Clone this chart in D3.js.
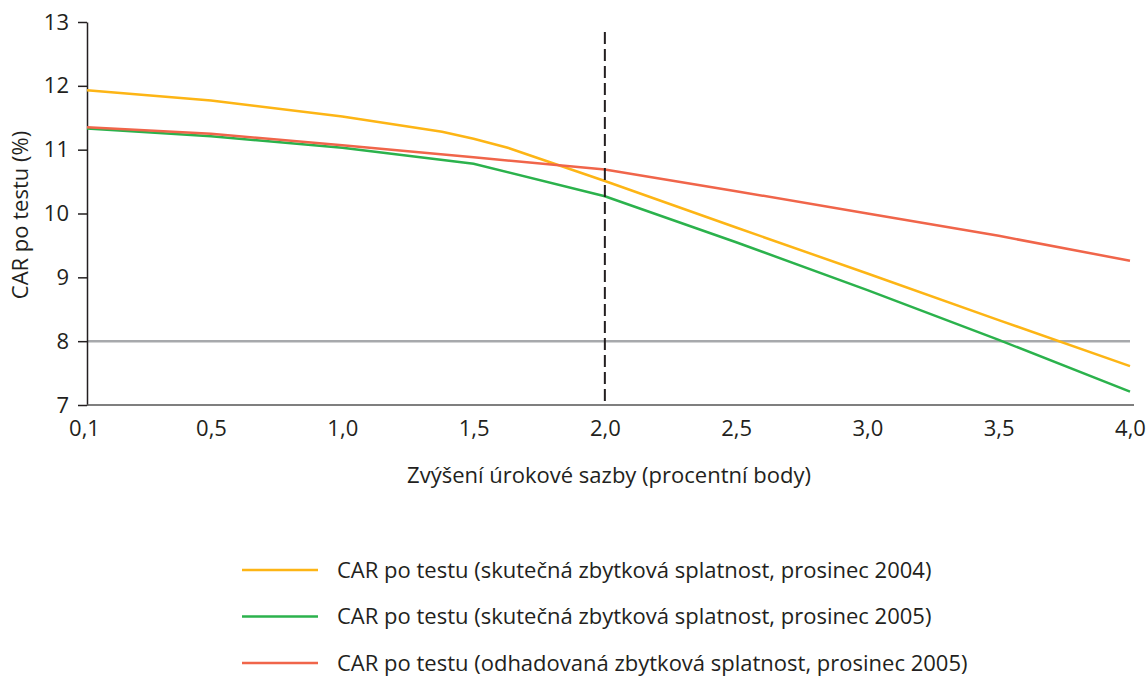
<html><head><meta charset="utf-8"><title>CAR po testu</title>
<style>
body { margin: 0; background: #fff; font-family: "Open Sans", "Noto Sans", sans-serif; }
text { fill: #231f20; }
</style>
<script src="https://d3js.org/d3.v7.min.js"></script>
</head>
<body>
<div id="chart"></div>
<script>
// data
const xTicks = [0.1, 0.5, 1.0, 1.5, 2.0, 2.5, 3.0, 3.5, 4.0];
const yTicks = [7, 8, 9, 10, 11, 12, 13];

const yellowX = [0.1, 0.5, 1.0, 1.38, 1.5, 1.63, 2.0, 2.5, 3.0, 3.5, 4.0];
const yellowY = [11.93, 11.77, 11.52, 11.28, 11.17, 11.03, 10.51, 9.78, 9.06, 8.33, 7.61];

const greenX = [0.1, 0.5, 1.0, 1.5, 2.0, 2.5, 3.0, 3.5, 4.0];
const greenY = [11.33, 11.21, 11.03, 10.78, 10.27, 9.55, 8.8, 8.02, 7.21];

const redX = [0.1, 0.5, 1.0, 1.5, 2.0, 2.5, 3.0, 3.5, 4.0];
const redY = [11.35, 11.25, 11.07, 10.88, 10.69, 10.35, 10.0, 9.65, 9.26];

const thresholdY = 8;
const markerX = 2.0;

const seriesNames = [
    "CAR po testu (skutečná zbytková splatnost, prosinec 2004)",
    "CAR po testu (skutečná zbytková splatnost, prosinec 2005)",
    "CAR po testu (odhadovaná zbytková splatnost, prosinec 2005)"
];
const seriesColors = ["#fdb515", "#2bb24c", "#f0654a"];

const width = 1146;
const height = 676;
const fontSize = 22;

const svg = d3.select("#chart")
    .append("svg")
    .attr("width", width)
    .attr("height", height);

// first step 0,1 -> 0,5 is drawn shorter, then even steps
const x = d3.scaleLinear().domain([0.1, 0.5, 4.0]).range([87, 211, 1130]);
const y = d3.scaleLinear().domain([7, 13]).range([405, 22]);

// threshold line at 8 %
svg.append("line")
    .attr("x1", x(0.1))
    .attr("x2", x(4.0))
    .attr("y1", y(thresholdY))
    .attr("y2", y(thresholdY))
    .attr("stroke", "#a7a9ac")
    .attr("stroke-width", 2.5);

// axes
const yAxis = svg.append("g")
    .attr("transform", "translate(87,0)")
    .call(d3.axisLeft(y).tickValues(yTicks).tickSize(9).tickSizeOuter(0).tickPadding(9)
        .tickFormat(d3.format("d")));
yAxis.attr("font-size", fontSize).attr("font-family", "Open Sans");
yAxis.select(".domain").attr("stroke", "#231f20").attr("stroke-width", 1.5);
yAxis.selectAll(".tick line").attr("stroke", "#231f20").attr("stroke-width", 1.5);

const xAxis = svg.append("g")
    .attr("transform", "translate(0,405)")
    .call(d3.axisBottom(x).tickValues(xTicks).tickSize(0).tickSizeOuter(0).tickPadding(15)
        .tickFormat(d => d.toFixed(1).replace(".", ",")));
xAxis.attr("font-size", fontSize).attr("font-family", "Open Sans");
xAxis.select(".domain").attr("d", "M87,0H1134").attr("stroke", "#555").attr("stroke-width", 1.5);
xAxis.selectAll(".tick text").filter(d => d === 0.1).attr("dx", -3);

// series
const line = d3.line().x(d => x(d[0])).y(d => y(d[1]));
const series = [
    d3.zip(yellowX, yellowY),
    d3.zip(greenX, greenY),
    d3.zip(redX, redY)
];
series.forEach((s, i) => {
    svg.append("path")
        .datum(s)
        .attr("d", line)
        .attr("fill", "none")
        .attr("stroke", seriesColors[i])
        .attr("stroke-width", 2.5);
});

// dashed marker at 2,0
svg.append("line")
    .attr("x1", x(markerX))
    .attr("x2", x(markerX))
    .attr("y1", 32)
    .attr("y2", y(7))
    .attr("stroke", "#231f20")
    .attr("stroke-width", 2)
    .attr("stroke-dasharray", "12,5");

// axis titles
svg.append("text")
    .attr("transform", "translate(28,215) rotate(-90)")
    .attr("text-anchor", "middle")
    .attr("font-size", fontSize)
    .text("CAR po testu (%)");

svg.append("text")
    .attr("x", 609)
    .attr("y", 483)
    .attr("text-anchor", "middle")
    .attr("font-size", fontSize)
    .text("Zvýšení úrokové sazby (procentní body)");

// legend
const legend = svg.append("g").attr("transform", "translate(242,570)");
seriesNames.forEach((name, i) => {
    const g = legend.append("g").attr("transform", `translate(0,${i * 46.5})`);
    g.append("line")
        .attr("x1", 0)
        .attr("x2", 76)
        .attr("stroke", seriesColors[i])
        .attr("stroke-width", 2.5);
    g.append("text")
        .attr("x", 95)
        .attr("dy", "0.35em")
        .attr("font-size", fontSize)
        .text(name);
});
</script>
</body></html>
